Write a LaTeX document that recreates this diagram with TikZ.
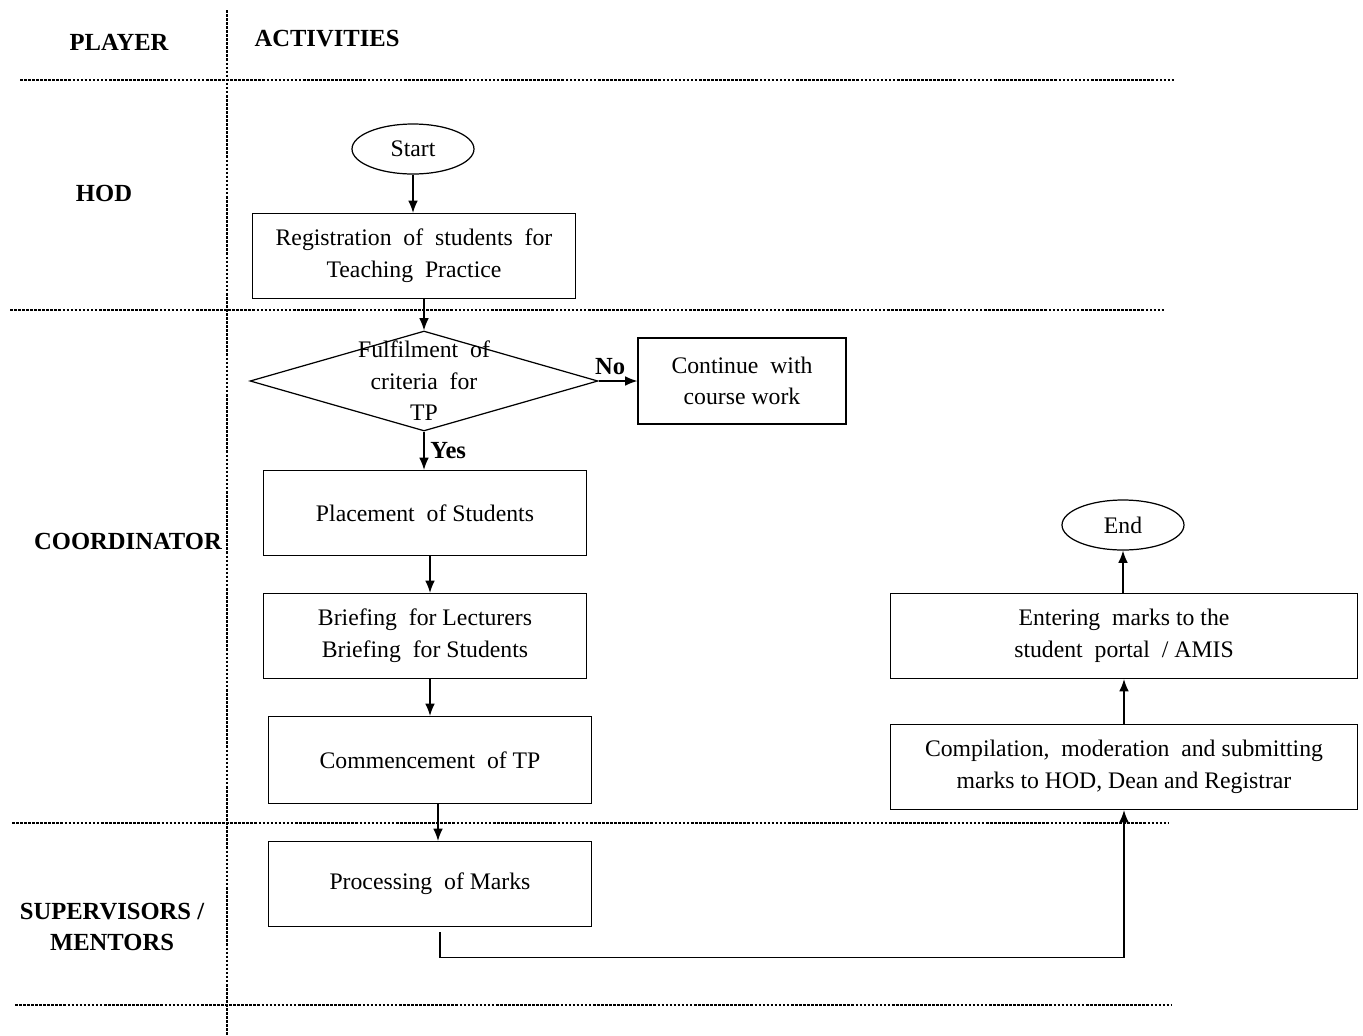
\documentclass[tikz,border=0pt]{standalone}
\usepackage{fontspec}
\setmainfont{Liberation Serif}
\usetikzlibrary{shapes.geometric,arrows.meta,positioning,calc}

\begin{document}
\begin{tikzpicture}[x=0.02cm,y=-0.02cm,>={Latex[length=7pt,width=5.5pt]},line width=0.7pt,
  font=\fontsize{13.5}{18}\selectfont]
\tikzstyle{process}=[draw,rectangle,minimum width=6.46cm,minimum height=1.7cm,align=center,inner sep=2pt]
\tikzstyle{wide}=[process,minimum width=9.34cm]
\tikzstyle{terminal}=[draw,ellipse,minimum width=2.44cm,minimum height=1cm,inner sep=0pt]
\tikzstyle{decision}=[draw,diamond,minimum width=6.96cm,minimum height=2cm,inner sep=0pt]
\tikzstyle{player}=[font=\fontsize{14}{18}\selectfont\bfseries,align=center]
\tikzstyle{lane}=[line width=0.6pt,dash pattern=on 1.5pt off 0.8pt]
\useasboundingbox (0,0) rectangle (1363,1035);
% swim lanes
\draw[lane] (227,10) -- (227,1035);
\draw[lane] (20,80) -- (1175,80);
\draw[lane] (10,310) -- (1165,310);
\draw[lane] (12,823) -- (1168,823);
\draw[lane] (15,1005) -- (1172,1005);
\node[player] (hplayer) at (119,42) {PLAYER};
\node[player] (hact) at (327,39) {ACTIVITIES};
\node[player] (hod) at (104,193) {HOD};
\node[player] (coord) at (128,541) {COORDINATOR};
\node[player] (sup) at (112,927) {SUPERVISORS /\\MENTORS};
% activities
\node[terminal] (start) at (413,149) {Start};
\node[process] (reg) at (414,256) {Registration \ of \ students \ for\\Teaching \ Practice};
\node[decision] (crit) at (424,381) {};
\node[align=center] (crittxt) at (crit) {Fulfilment \ of\\criteria \ for\\TP};
\node[process,minimum width=4.16cm,minimum height=1.72cm] (cont) at (742,381) {Continue \ with\\course work};
\node[process] (place) at (425,513) {Placement \ of Students};
\node[process] (brief) at (425,636) {Briefing \ for Lecturers\\Briefing \ for Students};
\node[process,minimum height=1.74cm] (comm) at (430,760) {Commencement \ of TP};
\node[process] (proc) at (430,884) {Processing \ of Marks};
\node[wide] (comp) at (1124,767) {Compilation, \ moderation \ and submitting\\marks to HOD, Dean and Registrar};
\node[wide] (enter) at (1124,636) {Entering \ marks to the\\student \ portal \ / AMIS};
\node[terminal] (end) at (1123,525) {End};
% flow
\draw[->] (start.south) -- (start.south |- reg.north);
\draw[->] (crit.north |- reg.south) -- (crit.north);
\draw[->] (crit.east) -- (cont.west) node[pos=0.3,above,player] (no) {No};
\draw[->] (crit.south) -- (crit.south |- place.north) node[midway,right,player] (yes) {Yes};
\draw[->] (comm.north |- place.south) -- (comm.north |- brief.north);
\draw[->] (comm.north |- brief.south) -- (comm.north);
\draw[->] ($(comm.south)+(8,0)$) -- ($(proc.north)+(8,0)$);
\draw[->] ($(proc.south)+(10,5)$) -- ++(0,25) -| (comp.south);
\draw[->] (comp.north) -- (enter.south);
\draw[->] (end.south |- enter.north) -- (end.south);
\end{tikzpicture}
\end{document}
